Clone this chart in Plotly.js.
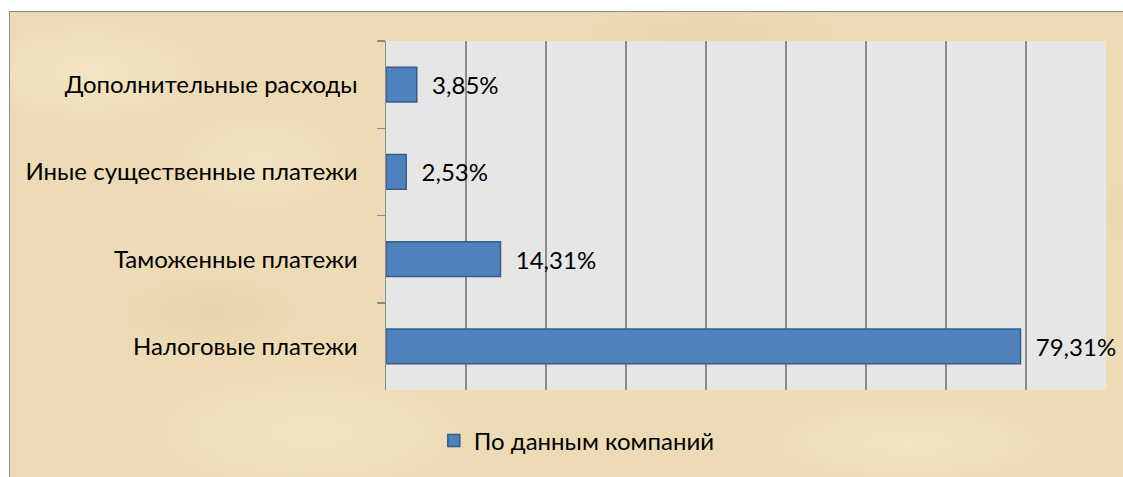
<!DOCTYPE html>
<html>
<head>
<meta charset="utf-8">
<script src="https://cdn.plot.ly/plotly-3.0.1.min.js"></script>
<style>
  html, body { margin: 0; padding: 0; background: #ffffff; width: 1123px; height: 477px; overflow: hidden; }
  #bg {
    position: absolute; left: 9px; top: 11px; width: 1114px; height: 466px;
    border-left: 1.5px solid #8a8a8a; border-top: 1.5px solid #8a8a8a;
    background-color: #eddbb5;
    background-image:
      radial-gradient(ellipse 120px 50px at 80px 60px, rgba(247,235,204,0.7), rgba(247,235,204,0)),
      radial-gradient(ellipse 160px 60px at 300px 420px, rgba(245,233,202,0.7), rgba(245,233,202,0)),
      radial-gradient(ellipse 140px 40px at 900px 430px, rgba(247,237,208,0.6), rgba(247,237,208,0)),
      radial-gradient(ellipse 100px 40px at 200px 300px, rgba(228,206,164,0.5), rgba(228,206,164,0)),
      radial-gradient(ellipse 150px 30px at 700px 20px, rgba(230,208,166,0.5), rgba(230,208,166,0)),
      radial-gradient(ellipse 120px 40px at 1050px 200px, rgba(232,210,170,0.5), rgba(232,210,170,0)),
      radial-gradient(ellipse 90px 50px at 250px 150px, rgba(245,234,205,0.6), rgba(245,234,205,0));
  }
  #chart { position: absolute; left: 0; top: 0; width: 1123px; height: 477px; }
</style>
</head>
<body>
<div id="bg"></div>
<div id="chart"></div>
<script>
const categories = ["Дополнительные расходы", "Иные существенные платежи", "Таможенные платежи", "Налоговые платежи"];
const values = [3.85, 2.53, 14.31, 79.31];
const seriesName = "По данным компаний";
const labels = values.map(v => "  " + v.toFixed(2).replace(".", ",") + "%");

const FONT = "Lato, 'Open Sans', sans-serif";
const FS = 24;

const trace = {
  type: "bar",
  orientation: "h",
  y: categories,
  x: values,
  name: seriesName,
  text: labels,
  textposition: "outside",
  cliponaxis: false,
  textfont: { family: FONT, size: FS, color: "#000000" },
  marker: { color: "#4f81bd", line: { color: "#385d8a", width: 1.5 } },
  showlegend: true,
  hoverinfo: "none"
};

const layout = {
  width: 1123, height: 477,
  margin: { l: 386, r: 17, t: 41, b: 87, pad: 0 },
  paper_bgcolor: "rgba(0,0,0,0)",
  plot_bgcolor: "#e6e6e6",
  bargap: 0.6,
  font: { family: FONT, size: FS, color: "#000000" },
  xaxis: {
    range: [0, 90], dtick: 10, tick0: 0,
    showgrid: true, gridcolor: "#8c8c8c", gridwidth: 1.5,
    showticklabels: false, zeroline: false, showline: false, ticks: ""
  },
  yaxis: {
    type: "category", autorange: "reversed",
    showline: true, linecolor: "#8c8c8c", linewidth: 1.5,
    ticks: "outside", tickson: "boundaries", ticklen: 8, tickcolor: "#8c8c8c", tickwidth: 1.5,
    ticklabelstandoff: 22,
    showgrid: false, zeroline: false,
    tickfont: { family: FONT, size: FS, color: "#000000" }
  },
  showlegend: true,
  legend: {
    orientation: "h", x: 0.265, xanchor: "center", y: -0.146, yanchor: "middle",
    itemwidth: 30,
    bgcolor: "rgba(0,0,0,0)", font: { family: FONT, size: FS, color: "#000000" }
  }
};

Plotly.newPlot("chart", [trace], layout, { displayModeBar: false, staticPlot: true });
</script>
</body>
</html>
